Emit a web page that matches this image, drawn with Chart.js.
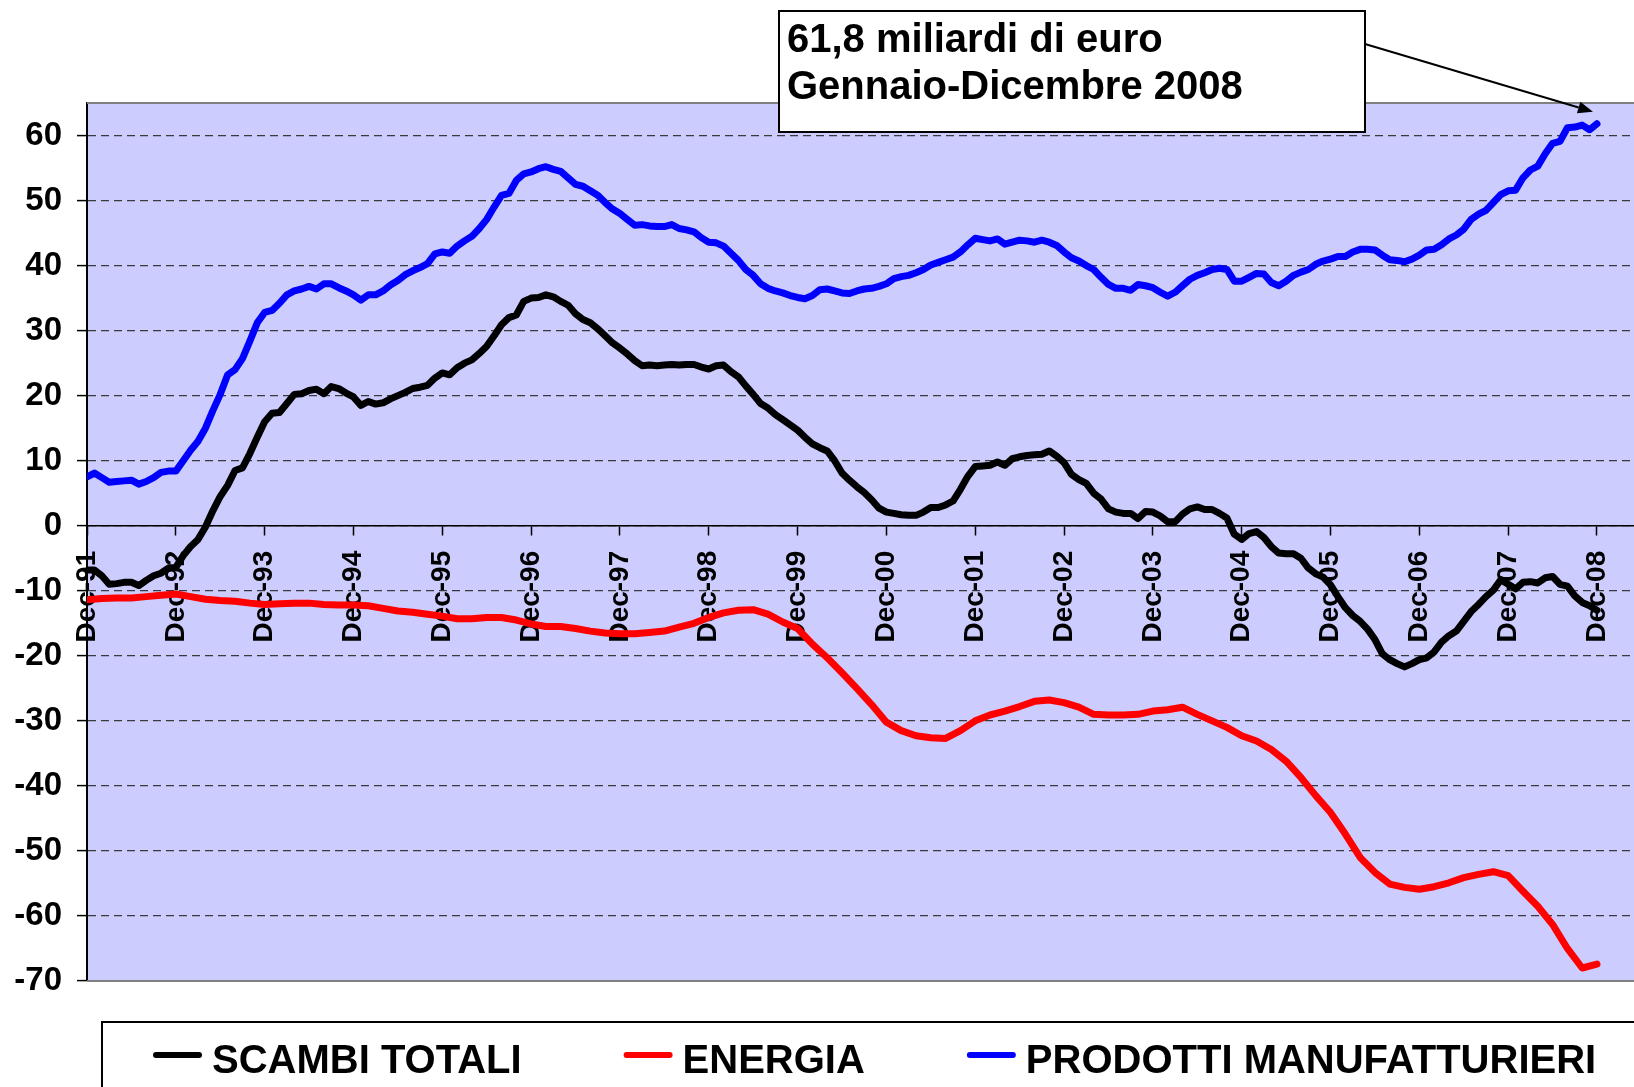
<!DOCTYPE html>
<html>
<head>
<meta charset="utf-8">
<title>Saldi commerciali 1991-2008</title>
<script src="https://cdn.jsdelivr.net/npm/chart.js@4.4.1/dist/chart.umd.min.js"></script>
<style>
  html, body { margin: 0; padding: 0; background: #ffffff; }
  canvas { display: block; }
</style>
</head>
<body>
<canvas id="saldiChart" width="1634" height="1087"></canvas>
<script>
// saldi cumulati sui 12 mesi (miliardi di euro), un valore al mese da Dec-91 a Dec-08
const xTickLabels = ['Dec-91', 'Dec-92', 'Dec-93', 'Dec-94', 'Dec-95', 'Dec-96', 'Dec-97', 'Dec-98', 'Dec-99',
                     'Dec-00', 'Dec-01', 'Dec-02', 'Dec-03', 'Dec-04', 'Dec-05', 'Dec-06', 'Dec-07', 'Dec-08'];
const yTickValues = [-70, -60, -50, -40, -30, -20, -10, 0, 10, 20, 30, 40, 50, 60];

const scambiTotali = [
    -6.8, -6.8, -7.7, -9.0, -8.9, -8.7, -8.7, -9.2, -8.4, -7.7, -7.3, -6.5,
    -6.4, -4.6, -3.2, -2.1, -0.2, 2.3, 4.5, 6.2, 8.5, 8.9, 11.1, 13.6,
    16.0, 17.3, 17.4, 18.8, 20.2, 20.3, 20.8, 21.0, 20.3, 21.4, 21.1, 20.4,
    19.8, 18.5, 19.1, 18.7, 18.9, 19.5, 20.0, 20.5, 21.1, 21.3, 21.6, 22.7,
    23.5, 23.2, 24.3, 25.0, 25.5, 26.5, 27.6, 29.2, 30.9, 32.0, 32.4, 34.5,
    35.0, 35.1, 35.5, 35.2, 34.5, 33.9, 32.6, 31.7, 31.2, 30.3, 29.2, 28.1,
    27.3, 26.4, 25.4, 24.6, 24.7, 24.6, 24.7, 24.8, 24.7, 24.8, 24.8, 24.4,
    24.1, 24.6, 24.7, 23.7, 22.9, 21.5, 20.2, 18.8, 18.1, 17.1, 16.3, 15.5,
    14.7, 13.6, 12.6, 12.0, 11.5, 10.0, 8.1, 7.0, 6.0, 5.1, 4.0, 2.7,
    2.1, 1.9, 1.7, 1.6, 1.6, 2.1, 2.8, 2.8, 3.2, 3.8, 5.6, 7.6,
    9.1, 9.2, 9.3, 9.8, 9.3, 10.3, 10.6, 10.8, 10.9, 11.0, 11.5, 10.7,
    9.7, 7.9, 7.1, 6.5, 5.0, 4.1, 2.6, 2.1, 1.9, 1.9, 1.1, 2.2,
    2.1, 1.5, 0.6, 0.6, 1.8, 2.6, 2.9, 2.5, 2.5, 1.9, 1.2, -1.3,
    -2.1, -1.2, -0.9, -1.8, -3.2, -4.2, -4.3, -4.3, -5.0, -6.5, -7.4, -7.9,
    -9.1, -10.9, -12.6, -13.8, -14.7, -15.9, -17.5, -19.7, -20.6, -21.2, -21.7, -21.2,
    -20.6, -20.3, -19.4, -17.9, -16.9, -16.2, -14.7, -13.2, -12.1, -10.9, -9.9, -8.3,
    -9.0, -9.7, -8.7, -8.6, -8.8, -8.0, -7.8, -9.0, -9.3, -10.8, -11.8, -12.3,
    -13.0
];

const prodottiManifatturieri = [
    7.5, 8.1, 7.4, 6.7, 6.8, 6.9, 7.0, 6.4, 6.8, 7.4, 8.2, 8.4,
    8.4, 10.0, 11.6, 13.0, 15.0, 17.7, 20.2, 23.2, 24.0, 25.7, 28.4, 31.2,
    32.8, 33.1, 34.2, 35.5, 36.1, 36.4, 36.8, 36.4, 37.2, 37.2, 36.6, 36.1,
    35.5, 34.7, 35.5, 35.5, 36.1, 37.0, 37.7, 38.6, 39.2, 39.7, 40.3, 41.8,
    42.1, 41.9, 43.0, 43.8, 44.5, 45.7, 47.1, 49.0, 50.8, 51.1, 53.1, 54.1,
    54.4, 54.9, 55.2, 54.8, 54.5, 53.5, 52.5, 52.2, 51.5, 50.8, 49.7, 48.7,
    48.0, 47.1, 46.2, 46.3, 46.1, 46.0, 46.0, 46.3, 45.7, 45.5, 45.2, 44.3,
    43.6, 43.5, 43.0, 41.9, 40.8, 39.4, 38.5, 37.2, 36.5, 36.1, 35.8, 35.4,
    35.1, 34.9, 35.4, 36.3, 36.4, 36.1, 35.8, 35.7, 36.1, 36.4, 36.5, 36.8,
    37.2, 38.0, 38.3, 38.5, 38.9, 39.4, 40.1, 40.5, 40.9, 41.3, 42.1, 43.2,
    44.2, 44.0, 43.8, 44.1, 43.3, 43.6, 43.9, 43.8, 43.6, 43.9, 43.6, 43.1,
    42.1, 41.2, 40.7, 40.0, 39.4, 38.2, 37.1, 36.5, 36.5, 36.2, 37.1, 36.9,
    36.6, 35.9, 35.3, 35.9, 36.9, 37.9, 38.5, 38.9, 39.4, 39.6, 39.4, 37.6,
    37.6, 38.2, 38.8, 38.7, 37.4, 36.9, 37.6, 38.5, 39.0, 39.4, 40.2, 40.7,
    41.0, 41.4, 41.4, 42.1, 42.5, 42.5, 42.4, 41.6, 40.9, 40.8, 40.6, 41.0,
    41.6, 42.4, 42.5, 43.2, 44.1, 44.7, 45.6, 47.1, 47.9, 48.5, 49.7, 50.9,
    51.5, 51.6, 53.5, 54.7, 55.3, 57.2, 58.8, 59.1, 61.2, 61.3, 61.6, 60.9,
    61.8
];

// energia: curva liscia, letta un mese si e uno no (Dec-91, Feb-92, ...)
const energia = [
    -11.4, -11.2, -11.1, -11.1, -10.9, -10.7,
    -10.5, -10.9, -11.3, -11.5, -11.6, -11.9,
    -12.1, -12.0, -11.9, -11.9, -12.1, -12.2,
    -12.2, -12.3, -12.7, -13.1, -13.3, -13.6,
    -13.9, -14.3, -14.3, -14.1, -14.1, -14.5,
    -15.1, -15.5, -15.5, -15.8, -16.2, -16.5,
    -16.6, -16.6, -16.4, -16.2, -15.6, -15.0,
    -14.1, -13.4, -13.0, -12.9, -13.6, -14.8,
    -15.8, -18.2, -20.3, -22.6, -25.0, -27.5,
    -30.2, -31.5, -32.3, -32.6, -32.7, -31.5,
    -30.0, -29.1, -28.5, -27.8, -27.0, -26.8,
    -27.2, -27.9, -29.0, -29.1, -29.1, -29.0,
    -28.5, -28.3, -27.9, -29.0, -30.0, -31.0,
    -32.3, -33.1, -34.4, -36.2, -38.7, -41.5,
    -44.1, -47.4, -51.0, -53.3, -55.1, -55.6,
    -55.9, -55.5, -54.9, -54.1, -53.6, -53.2,
    -53.8, -56.2, -58.5, -61.3, -65.0, -68.0,
    -67.4
];

const noteLines = ['61,8 miliardi di euro', 'Gennaio-Dicembre 2008'];

const FONT = "'Liberation Sans', Arial, Helvetica, sans-serif";

document.addEventListener('DOMContentLoaded', () => {
    Chart.defaults.font.family = FONT;
    Chart.defaults.color = '#000';

    // months counted from Dec-91
    const toPoints = (values, step) => values.map((v, i) => ({ x: i * step, y: v }));

    // lavender plot area with grey top/bottom frame
    const plotBackground = {
        id: 'plotBackground',
        beforeDraw(chart) {
            const { ctx, chartArea: a } = chart;
            ctx.save();
            ctx.fillStyle = '#ccccff';
            ctx.fillRect(a.left, a.top, a.right - a.left, a.bottom - a.top);
            ctx.restore();
        },
        beforeDatasetsDraw(chart) {
            const { ctx, chartArea: a } = chart;
            ctx.save();
            ctx.strokeStyle = '#808080';
            ctx.lineWidth = 2;
            ctx.beginPath();
            ctx.moveTo(a.left, a.top);
            ctx.lineTo(a.right, a.top);
            ctx.moveTo(a.left, a.bottom);
            ctx.lineTo(a.right, a.bottom);
            ctx.stroke();
            ctx.restore();
        }
    };

    // legend in a framed box that runs off the bottom/right edge
    const legendBox = {
        id: 'legendBox',
        afterDraw(chart) {
            const { ctx, width, height } = chart;
            ctx.save();
            ctx.strokeStyle = '#000';
            ctx.lineWidth = 2;
            ctx.strokeRect(102, 1022, width, height);
            ctx.font = 'bold 40px ' + FONT;
            ctx.textBaseline = 'alphabetic';
            let x = 153;
            chart.data.datasets.forEach(ds => {
                ctx.strokeStyle = ds.borderColor;
                ctx.lineWidth = 6;
                ctx.lineCap = 'round';
                ctx.beginPath();
                ctx.moveTo(x + 3, 1055);
                ctx.lineTo(x + 46, 1055);
                ctx.stroke();
                ctx.fillStyle = '#000';
                ctx.fillText(ds.label, x + 59, 1073);
                x += 59 + ctx.measureText(ds.label).width + 102;
            });
            ctx.restore();
        }
    };

    // callout box with arrow to the last manufacturing value
    const noteBox = {
        id: 'noteBox',
        afterDraw(chart) {
            const { ctx, scales } = chart;
            ctx.save();
            ctx.fillStyle = '#fff';
            ctx.fillRect(779, 11, 586, 121);
            ctx.strokeStyle = '#000';
            ctx.lineWidth = 2;
            ctx.strokeRect(779, 11, 586, 121);
            ctx.fillStyle = '#000';
            ctx.font = 'bold 40px ' + FONT;
            noteLines.forEach((t, i) => ctx.fillText(t, 787, 52 + i * 47));

            const last = prodottiManifatturieri.length - 1;
            const x1 = 1365, y1 = 44;
            const x2 = scales.x.getPixelForValue(last) - 4;
            const y2 = scales.y.getPixelForValue(prodottiManifatturieri[last]) - 12;
            const ang = Math.atan2(y2 - y1, x2 - x1);
            const len = 15, half = 6;
            const bx = x2 - len * Math.cos(ang), by = y2 - len * Math.sin(ang);
            ctx.lineWidth = 2;
            ctx.beginPath();
            ctx.moveTo(x1, y1);
            ctx.lineTo(bx, by);
            ctx.stroke();
            ctx.beginPath();
            ctx.moveTo(x2, y2);
            ctx.lineTo(bx + half * Math.sin(ang), by - half * Math.cos(ang));
            ctx.lineTo(bx - half * Math.sin(ang), by + half * Math.cos(ang));
            ctx.closePath();
            ctx.fill();
            ctx.restore();
        }
    };

    const ctx = document.getElementById('saldiChart').getContext('2d');

    new Chart(ctx, {
        type: 'line',
        data: {
            datasets: [
                { label: 'SCAMBI TOTALI', data: toPoints(scambiTotali, 1), borderColor: '#000000', backgroundColor: '#000000', borderWidth: 7 },
                { label: 'ENERGIA', data: toPoints(energia, 2), borderColor: '#ff0000', backgroundColor: '#ff0000', borderWidth: 7 },
                { label: 'PRODOTTI MANUFATTURIERI', data: toPoints(prodottiManifatturieri, 1), borderColor: '#0000ff', backgroundColor: '#0000ff', borderWidth: 7 }
            ]
        },
        options: {
            responsive: false,
            devicePixelRatio: 1,
            animation: false,
            elements: {
                point: { radius: 0 },
                line: { tension: 0, borderJoinStyle: 'round', borderCapStyle: 'round' }
            },
            layout: { padding: { top: 103, right: 0, bottom: 106, left: 0 } },
            plugins: {
                legend: { display: false },
                tooltip: { enabled: false }
            },
            scales: {
                x: {
                    type: 'linear',
                    position: { y: 0 },
                    z: 1,
                    min: 0,
                    max: 209,
                    afterBuildTicks: s => { s.ticks = xTickLabels.map((_, i) => ({ value: i * 12 })); },
                    afterFit: s => { s.paddingLeft = 0; s.paddingRight = 0; },
                    grid: { drawOnChartArea: false, drawTicks: true, tickLength: 9, color: '#000', tickWidth: 1.5 },
                    border: { display: true, color: '#000', width: 1.5 },
                    ticks: {
                        autoSkip: false,
                        minRotation: 90,
                        maxRotation: 90,
                        padding: 16,
                        color: '#000',
                        font: { size: 28, weight: 'bold' },
                        callback: (v, i) => xTickLabels[i]
                    }
                },
                y: {
                    min: -70,
                    max: 65,
                    afterBuildTicks: s => { s.ticks = yTickValues.map(v => ({ value: v })); },
                    afterFit: s => { s.width = 87; },
                    grid: { color: '#3a3a3a', lineWidth: 1.2, drawTicks: true, tickLength: 10, tickColor: '#000', tickWidth: 1.5 },
                    border: { display: true, color: '#000', width: 2, dash: [8, 5] },
                    ticks: {
                        padding: 15,
                        color: '#000',
                        font: { size: 33, weight: 'bold' }
                    }
                }
            }
        },
        plugins: [plotBackground, legendBox, noteBox]
    });
});
</script>
</body>
</html>
